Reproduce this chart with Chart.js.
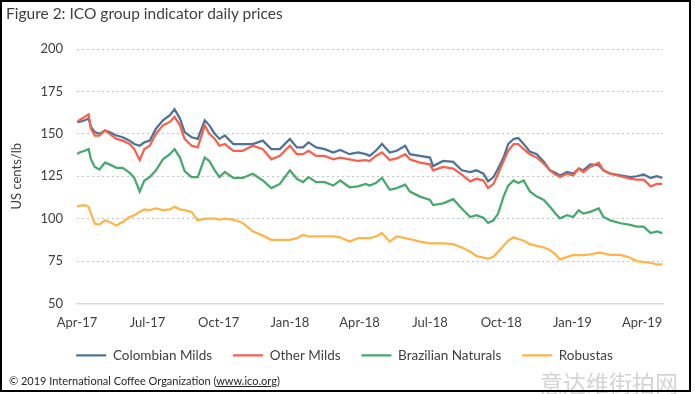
<!DOCTYPE html>
<html>
<head>
<meta charset="utf-8">
<script src="https://cdn.jsdelivr.net/npm/chart.js@4/dist/chart.umd.min.js"></script>
<style>
  html, body { margin: 0; padding: 0; background: #fff; }
  #wrap { position: relative; width: 695px; height: 394px; overflow: hidden; }
  #frame { position: absolute; left: 0; top: 0; width: 687px; height: 388px; border: 2px solid #000; pointer-events: none; }
  #title { position: absolute; left: 6px; top: 4px; font-family: Lato, sans-serif; font-size: 15.5px; color: #404040; white-space: nowrap; }
  #footer { position: absolute; left: 9px; top: 374px; font-family: Lato, sans-serif; font-size: 11px; color: #262626; white-space: nowrap; }
  #footer u { text-decoration: underline; }
  #wm { position: absolute; left: 540px; top: 365px; font-family: "Noto Sans CJK SC", sans-serif; font-size: 23px; color: #d4d4d4; white-space: nowrap; }
  canvas { position: absolute; left: 0; top: 0; }
</style>
</head>
<body>
<div id="wrap">
  <canvas id="c" width="695" height="394"></canvas>
  <div id="title">Figure 2: ICO group indicator daily prices</div>
  <div id="footer">© 2019 International Coffee Organization (<u>www.ico.org</u>)</div>
  <div id="wm">意达维街拍网</div>
  <div id="frame"></div>
</div>
<script>
// Days since 1 April 2017
const days = [0,3,10,15,18,23,29,36,42,51,
  59,68,74,81,87,94,102,111,120,126,
  133,139,148,156,165,171,178,184,191,202,
  214,227,240,251,262,275,284,292,299,309,
  320,331,340,352,363,373,378,386,394,404,
  413,424,430,443,456,460,473,486,497,508,
  516,525,531,538,544,551,557,564,570,577,
  585,594,603,611,618,624,633,641,648,654,
  663,674,680,689,702,715,723,732,741,749,
  756];

const colombianMilds = [157,157,158,159,154,151,150,152,151,149,
  148,146,144,143,145,146,153,158,161,164.5,
  159,151,148,147,158,155,150,147,149,144,
  144,144,146,141,141,147,142,142,145,142,
  141,139,140.5,138,139,138,137,140,144,139,
  140,143,138,137,136,131,134,133.5,128.5,127.5,
  128.5,126.5,122,124.5,129.5,136,144,147,147.5,144,
  139.5,138,133.5,128.5,127,125.5,127.5,126.5,129.5,128.5,
  132,131.5,128.5,126.5,125.5,124.5,125,126,124,125,
  124];

const otherMilds = [157,158,160,161.5,153,149,149,152,150,147,
  146,144,141,134.5,141,143,150,155,157,160,
  155,147,143,142,155,150,147,143,144,140,
  140,143,141,135,137,143,138,138,140,137,
  137,135,136,135,134,134.5,134,137,139,134.5,
  135.5,138,135,133,132,128.5,130.5,129.5,126,122,
  123.5,122.5,118,120.5,126.5,134,140,144,144,141,
  138,136,132.5,128.5,126,124.5,126.5,125.5,129.5,127.5,
  130.5,133,128.5,126.5,125,123.5,123,123,119,120.5,
  120.5];

const brazilianNaturals = [138,139,140,141,135,130.5,129,133,132,130,
  130,127,124,116,122.5,124.5,128.5,135,138,141,
  136,128,124.5,124.5,136,134,128.5,124.5,127.5,124,
  124,126.5,122.5,118,120.5,128.5,123.5,121.5,124.5,121.5,
  121.5,119.5,122.5,118.5,119,120.5,119.5,121,124,117,
  118,120,116,113,111,108,109,111.5,106,101,
  102,100.5,97.5,99,103,113,119.5,122.5,121,122.5,
  116,113,111,107,103,100.2,102,101,105,103,
  104,106,101,99,97.3,96.3,95.3,95.3,91.5,92.5,
  91.5];

const robustas = [107,107.5,108,107,103,97,96.5,99,98,96,
  98,101,102,104,105.5,105,106,105,105.5,107,
  105.5,105,104,99,100,100,100,99.5,100,99.5,
  97.5,92.5,90,87.5,87.5,87.5,88.5,90.5,89.5,89.5,
  89.5,89.5,89,86.5,88.5,88.5,88.5,89.5,91.5,86.5,
  89.5,88.5,88,86.5,85.5,85.5,85.5,85,83,80.5,
  78,77,76.5,77.5,80.5,84,87,89,88,87,
  85,84,83,81.5,79,76,77.5,78.5,78.5,78.5,
  79,80,79.5,78.7,78.7,77,75,74.5,74,73,
  73];

const seriesNames = ['Colombian Milds','Other Milds','Brazilian Naturals','Robustas'];
const tickDays = [0,91,183,275,365,456,548,640,730];
const tickLabels = ['Apr-17','Jul-17','Oct-17','Jan-18','Apr-18','Jul-18','Oct-18','Jan-19','Apr-19'];
const yTicks = [50,75,100,125,150,175,200];

const colors = ['#4C7494','#F8604E','#46A86C','#FDB54A'];
const allSeries = [colombianMilds, otherMilds, brazilianNaturals, robustas];
const drawOrder = [4,3,2,1];

const datasets = allSeries.map((vals, i) => ({
  label: seriesNames[i],
  data: vals.map((v, k) => ({x: days[k], y: v})),
  borderColor: colors[i],
  backgroundColor: colors[i],
  borderWidth: 2.25,
  pointRadius: 0,
  tension: 0,
  order: drawOrder[i]
}));

const tickFont = {family: 'Lato, sans-serif', size: 13};

new Chart(document.getElementById('c'), {
  type: 'line',
  data: {datasets},
  options: {
    responsive: false,
    animation: false,
    events: [],
    layout: {padding: {left: 26, right: 32, top: 49, bottom: 22}},
    plugins: {
      tooltip: {enabled: false},
      title: {display: false},
      legend: {
        position: 'bottom',
        labels: {
          usePointStyle: true,
          pointStyle: 'line',
          pointStyleWidth: 30,
          boxWidth: 30,
          padding: 14,
          color: '#404040',
          font: {family: 'Lato, sans-serif', size: 13.5},
          generateLabels: (chart) => {
            const items = Chart.defaults.plugins.legend.labels.generateLabels(chart);
            items.sort((a, b) => a.datasetIndex - b.datasetIndex);
            items.forEach((it, i) => { if (i < items.length - 1) it.text = it.text + '\u2002'; });
            return items;
          }
        }
      }
    },
    scales: {
      x: {
        type: 'linear',
        min: 0,
        max: 757,
        afterBuildTicks: (s) => { s.ticks = tickDays.map(v => ({value: v})); },
        afterFit: (s) => { s.height = 31; },
        ticks: {
          autoSkip: false, maxRotation: 0, padding: 12,
          color: '#404040', font: tickFont,
          callback: (v) => { const i = tickDays.indexOf(v); return i >= 0 ? tickLabels[i] : ''; }
        },
        grid: {display: false, drawTicks: false},
        border: {display: true, color: '#d9d9d9', width: 1.5}
      },
      y: {
        min: 50,
        max: 200,
        afterBuildTicks: (s) => { s.ticks = yTicks.map(v => ({value: v})); },
        afterFit: (s) => { s.width = 51; },
        ticks: {padding: 14, color: '#404040', font: tickFont},
        grid: {
          drawTicks: false,
          lineWidth: 1,
          color: (ctx) => (ctx.tick && ctx.tick.value === 50) ? 'rgba(0,0,0,0)' : '#c4c4c4'
        },
        border: {display: false, dash: [2, 3]},
        title: {
          display: true,
          text: 'US cents/lb',
          color: '#404040',
          font: {family: 'Lato, sans-serif', size: 13},
          padding: {top: -17, bottom: 0}
        }
      }
    }
  }
});
</script>
</body>
</html>
